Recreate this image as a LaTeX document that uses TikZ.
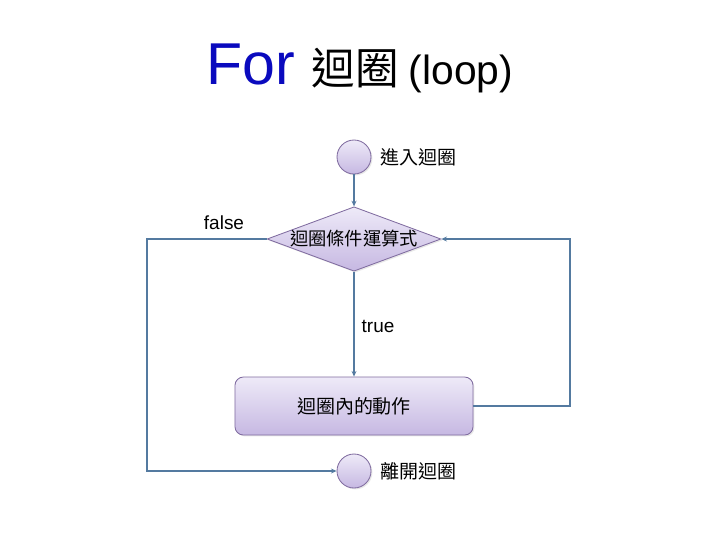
\documentclass[tikz,border=0pt]{standalone}
\usepackage{fontspec}
\setmainfont{Liberation Sans}
\newfontfamily\cjk{Noto Sans CJK TC}
\usetikzlibrary{arrows.meta, shapes.geometric, shadows}
\definecolor{cTitle}{RGB}{10,10,190}
\definecolor{cLine}{RGB}{84,122,160}
\definecolor{cEdge}{RGB}{128,108,160}
\definecolor{cFillTop}{RGB}{238,234,248}
\definecolor{cFillBot}{RGB}{198,184,226}
\tikzset{
  shapefill/.style={draw=cEdge, line width=0.6pt, top color=cFillTop, bottom color=cFillBot,
                    drop shadow={opacity=0.18, shadow xshift=1pt, shadow yshift=-1pt}},
  termC/.style={shapefill, circle, minimum size=0.85cm, inner sep=0pt},
  decision/.style={shapefill, diamond, shape aspect=2.7, minimum width=4.2cm,
                   inner sep=0pt, font=\cjk\fontsize{13}{15}\selectfont},
  actbox/.style={shapefill, rectangle, rounded corners=6pt, minimum width=5.95cm,
                 minimum height=1.45cm, font=\cjk\fontsize{13.5}{15}\selectfont},
  sidelabel/.style={anchor=west, font=\cjk\fontsize{13.5}{15}\selectfont},
  branchlabel/.style={font=\fontsize{13.5}{15}\selectfont},
  flow/.style={-{Stealth[length=4pt, width=3.5pt]}, draw=cLine, line width=1.7pt},
}

\begin{document}
\begin{tikzpicture}[x=0.025cm, y=-0.025cm]
\useasboundingbox (0,0) rectangle (720,540);

%% ============================================================
%%  TITLE
%% ============================================================
\node (title) at (360,68) {{\color{cTitle}\fontsize{42}{46}\selectfont For }%
  {\cjk\fontsize{31}{34}\selectfont 迴圈 }{\fontsize{29}{32}\selectfont (loop)}};

%% ============================================================
%%  FLOW NODES
%% ============================================================
\node[termC] (start) at (354,157) {};
\node[sidelabel] (startlbl) at (376,157) {進入迴圈};

\node[decision] (cond) at (354,239) {迴圈條件運算式};

\node[actbox] (body) at (354,406) {迴圈內的動作};

\node[termC] (stop) at (354,471) {};
\node[sidelabel] (stoplbl) at (376,471) {離開迴圈};

%% ----- branch labels -----
\node[branchlabel] (falselbl) at (224,223) {false};
\node[branchlabel] (truelbl) at (378,326) {true};

%% ----- corner points of the loops -----
\coordinate (lcorner) at (147,239);
\coordinate (rcorner) at (570,406);

%% ============================================================
%%  CONNECTORS
%% ============================================================
\draw[flow] (start) -- (cond);
\draw[flow] (cond) -- (body);
\draw[flow] (body.east) -- (rcorner) |- (cond.east);
\draw[flow] (cond.west) -- (lcorner) |- (stop);

\end{tikzpicture}
\end{document}
